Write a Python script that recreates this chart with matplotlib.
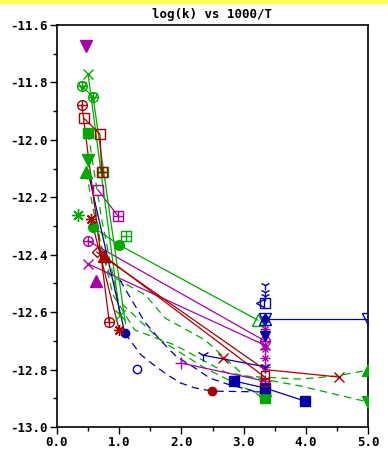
import matplotlib
matplotlib.use("Agg")
import matplotlib.pyplot as plt
from matplotlib.ticker import MultipleLocator, FormatStrFormatter

plt.rcParams['axes.unicode_minus'] = False
plt.rcParams['font.family'] = ['DejaVu Sans Mono', 'DejaVu Sans']

RED = '#a80000'
GREEN = '#00a800'
BLUE = '#0000a8'
MAG = '#a800a8'

# x = 1000/T, y = log(k)
# magenta
mag_v_x = [0.47]
mag_v_y = [-11.673]
mag_x_x = [0.50, 3.34]
mag_x_y = [-12.432, -12.715]
mag_op_x = [0.50, 3.34]
mag_op_y = [-12.352, -12.700]
mag_tri_x = [0.63]
mag_tri_y = [-12.492]
mag_sq_x = [0.66, 0.98]
mag_sq_y = [-12.175, -12.265]
mag_plus_x = [1.99, 3.34]
mag_plus_y = [-12.777, -12.840]
mag_stack_x = [3.34, 3.34, 3.34, 3.34]
mag_stack_y = [-12.66, -12.73, -12.76, -12.79]

# green
grn_x_x = [0.50, 1.01]
grn_x_y = [-11.771, -12.610]
grn_op_x = [0.40, 0.58, 1.10]
grn_op_y = [-11.812, -11.851, -12.640]
grn_ast_x = [0.34]
grn_ast_y = [-12.262]
grn_o_x = [0.58, 1.00, 3.23]
grn_o_y = [-12.304, -12.366, -12.628]
grn_sqp_x = [1.11, 0.74]
grn_sqp_y = [-12.335, -12.112]
grn_sq_x = [0.50, 3.34]
grn_sq_y = [-11.976, -12.899]
grn_v_x = [0.50, 5.00]
grn_v_y = [-12.070, -12.913]
grn_tri_x = [0.47, 3.34, 5.00]
grn_tri_y = [-12.112, -12.870, -12.802]
# green fitted curves (dashed)
gd1_x = [0.50, 0.69, 0.90, 1.25, 1.90, 2.70, 3.91, 5.00]
gd1_y = [-12.070, -12.349, -12.540, -12.662, -12.715, -12.809, -12.857, -12.913]
gd2_x = [0.47, 0.66, 0.85, 1.42, 1.74, 2.38, 3.02, 3.91, 4.47, 5.00]
gd2_y = [-12.112, -12.331, -12.471, -12.540, -12.621, -12.697, -12.823, -12.833, -12.823, -12.802]
gd3_x = [0.50, 0.72, 0.98, 1.66, 2.38, 3.02, 3.34]
gd3_y = [-11.976, -12.279, -12.558, -12.697, -12.795, -12.864, -12.899]

# blue
blu_o_x = [0.50, 1.09]
blu_o_y = [-12.112, -12.673]
blu_open_x = [1.29]
blu_open_y = [-12.798]
blu_sq_x = [2.85, 3.34, 3.99]
blu_sq_y = [-12.840, -12.864, -12.910]
blu_tri_x = [2.35, 3.34]
blu_tri_y = [-12.750, -12.790]
blu_flat_x = [3.34, 5.00]
blu_flat_y = [-12.624, -12.624]
blu_stack_x = [3.34, 3.34, 3.34, 3.34]
blu_stack_y = [-12.506, -12.530, -12.545, -12.683]
blu_box_x = [3.34]
blu_box_y = [-12.568]
# blue fitted curves (dashed)
bd1_x = [1.01, 1.41, 1.66, 1.91, 2.22, 2.46, 2.73, 3.10, 3.34]
bd1_y = [-12.488, -12.634, -12.697, -12.753, -12.795, -12.830, -12.850, -12.871, -12.889]
bd2_x = [1.09, 1.35, 1.58, 1.78, 1.99, 2.22, 2.49, 3.34]
bd2_y = [-12.673, -12.749, -12.788, -12.819, -12.847, -12.864, -12.875, -12.878]

# red
red_op_x = [0.40, 0.84]
red_op_y = [-11.879, -12.634]
red_sq_x = [0.43, 0.69, 0.72]
red_sq_y = [-11.924, -11.980, -12.112]
red_ast_x = [0.55, 1.00]
red_ast_y = [-12.276, -12.662]
red_dia_x = [0.64, 2.30, 3.34]
red_dia_y = [-12.391, -12.680, -12.800]
red_tri_x = [0.76, 3.34]
red_tri_y = [-12.405, -12.826]
red_x_x = [3.34, 4.53]
red_x_y = [-12.800, -12.826]
red_x2_x = [2.67]
red_x2_y = [-12.760]
red_o_x = [2.49]
red_o_y = [-12.875]
red_box_x = [3.34, 3.34]
red_box_y = [-12.820, -12.845]

ASTER = (8, 2, 0)

fig = plt.figure(figsize=(3.88, 4.49), dpi=100)
fig.patches.append(plt.Rectangle((0, 1 - 3 / 449), 1, 3 / 449, transform=fig.transFigure,
                                 color='#ffff54', zorder=0))
ax = fig.add_axes([57 / 388, 22 / 449, 311 / 388, 402 / 449])


def line(x, y, c, ls='-'):
    if ls == '--':
        ax.plot(x, y, color=c, lw=0.9, dashes=(6, 4), zorder=2)
    else:
        ax.plot(x, y, color=c, lw=0.9, zorder=2)


def mark(x, y, c, m, filled=True, ms=6.5):
    ax.plot(x, y, ls='none', marker=m, ms=ms, mew=1.0, color=c,
            mfc=c if filled else 'none', mec=c, zorder=3)


def oplus(x, y, c):
    mark(x, y, c, 'o', False, 7)
    mark(x, y, c, '+', False, 7)


def sqplus(x, y, c):
    mark(x, y, c, 's', False, 7)
    mark(x, y, c, '+', False, 7)


# fitted curves
line(gd1_x, gd1_y, GREEN, '--')
line(gd2_x, gd2_y, GREEN, '--')
line(gd3_x, gd3_y, GREEN, '--')
line(bd1_x, bd1_y, BLUE, '--')
line(bd2_x, bd2_y, BLUE, '--')

# connecting lines
for xs, ys, c in [(mag_x_x, mag_x_y, MAG), (mag_op_x, mag_op_y, MAG), (mag_sq_x, mag_sq_y, MAG),
                  (mag_plus_x, mag_plus_y, MAG), (grn_x_x, grn_x_y, GREEN),
                  (grn_op_x, grn_op_y, GREEN), (grn_o_x, grn_o_y, GREEN),
                  (blu_o_x, blu_o_y, BLUE), (blu_sq_x, blu_sq_y, BLUE),
                  (blu_tri_x, blu_tri_y, BLUE), (blu_flat_x, blu_flat_y, BLUE),
                  (red_op_x, red_op_y, RED), (red_sq_x, red_sq_y, RED),
                  (red_ast_x, red_ast_y, RED), (red_dia_x[::2], red_dia_y[::2], RED),
                  (red_tri_x, red_tri_y, RED), (red_x_x, red_x_y, RED)]:
    line(xs, ys, c)

# markers
mark(mag_v_x, mag_v_y, MAG, 'v', ms=8)
mark(mag_x_x, mag_x_y, MAG, 'x', False)
oplus(mag_op_x, mag_op_y, MAG)
mark(mag_tri_x, mag_tri_y, MAG, '^', ms=8)
mark(mag_sq_x[:1], mag_sq_y[:1], MAG, 's', False, 7)
sqplus(mag_sq_x[1:], mag_sq_y[1:], MAG)
mark(mag_plus_x, mag_plus_y, MAG, '+', False, 8)
mark(mag_stack_x, mag_stack_y, MAG, '+', False, 7)
mark(mag_stack_x, mag_stack_y, MAG, 'x', False, 5)

mark(grn_x_x, grn_x_y, GREEN, 'x', False, 7)
oplus(grn_op_x[:2], grn_op_y[:2], GREEN)
mark(grn_op_x[:2], grn_op_y[:2], GREEN, 'v', False, 6)
mark(grn_ast_x, grn_ast_y, GREEN, ASTER, False, 9)
mark(grn_o_x[:2], grn_o_y[:2], GREEN, 'o', ms=7)
mark(grn_o_x[2:], grn_o_y[2:], GREEN, '^', False, 8)
sqplus(grn_sqp_x, grn_sqp_y, GREEN)
mark(grn_sq_x, grn_sq_y, GREEN, 's', ms=7)
mark(grn_v_x, grn_v_y, GREEN, 'v', ms=8)
mark(grn_tri_x, grn_tri_y, GREEN, '^', ms=8)

mark(blu_o_x[1:], blu_o_y[1:], BLUE, 'o', ms=6)
mark(blu_open_x, blu_open_y, BLUE, 'o', False, 6)
mark(blu_sq_x, blu_sq_y, BLUE, 's', ms=7)
mark(blu_tri_x, blu_tri_y, BLUE, '1', False, 9)
mark(blu_flat_x, blu_flat_y, BLUE, 'v', False, 8)
mark(blu_flat_x[:1], blu_flat_y[:1], BLUE, '^', False, 8)
mark(blu_flat_x[:1], blu_flat_y[:1], BLUE, 'o', ms=5)
mark(blu_stack_x[:3], blu_stack_y[:3], BLUE, '1', False, 7)
mark(blu_stack_x[3:], blu_stack_y[3:], BLUE, 'v', ms=7)
mark(blu_box_x, blu_box_y, BLUE, 's', False, 7)
mark([blu_box_x[0] - 0.07], blu_box_y, BLUE, '<', False, 6)

oplus(red_op_x, red_op_y, RED)
mark(red_sq_x[:2], red_sq_y[:2], RED, 's', False, 7)
sqplus(red_sq_x[2:], red_sq_y[2:], RED)
mark(red_ast_x, red_ast_y, RED, ASTER, False, 8)
mark(red_dia_x[:1], red_dia_y[:1], RED, 'D', False, 5)
mark(red_tri_x[:1], red_tri_y[:1], RED, '^', ms=8)
mark(red_x_x[1:], red_x_y[1:], RED, 'x', False, 7)
mark(red_x2_x, red_x2_y, RED, 'x', False, 7)
mark(red_o_x, red_o_y, RED, 'o', ms=6)
mark(red_box_x, red_box_y, RED, 's', False, 6)

ax.set_xlim(0, 5)
ax.set_ylim(-13.0, -11.6)
ax.xaxis.set_major_locator(MultipleLocator(1.0))
ax.xaxis.set_minor_locator(MultipleLocator(0.5))
ax.yaxis.set_major_locator(MultipleLocator(0.2))
ax.yaxis.set_minor_locator(MultipleLocator(0.1))
ax.xaxis.set_major_formatter(FormatStrFormatter('%.1f'))
ax.yaxis.set_major_formatter(FormatStrFormatter('%.1f'))
ax.tick_params(which='major', direction='out', length=5, width=1, pad=1.5,
               labelsize=9)
ax.tick_params(which='minor', direction='out', length=3, width=1)
for lab in ax.get_xticklabels() + ax.get_yticklabels():
    lab.set_fontweight('bold')
for s in ax.spines.values():
    s.set_linewidth(1.2)

ax.set_title('log(k) vs 1000/T', fontsize=9, fontweight='bold', pad=5)

fig.savefig('out.png', dpi=100)
